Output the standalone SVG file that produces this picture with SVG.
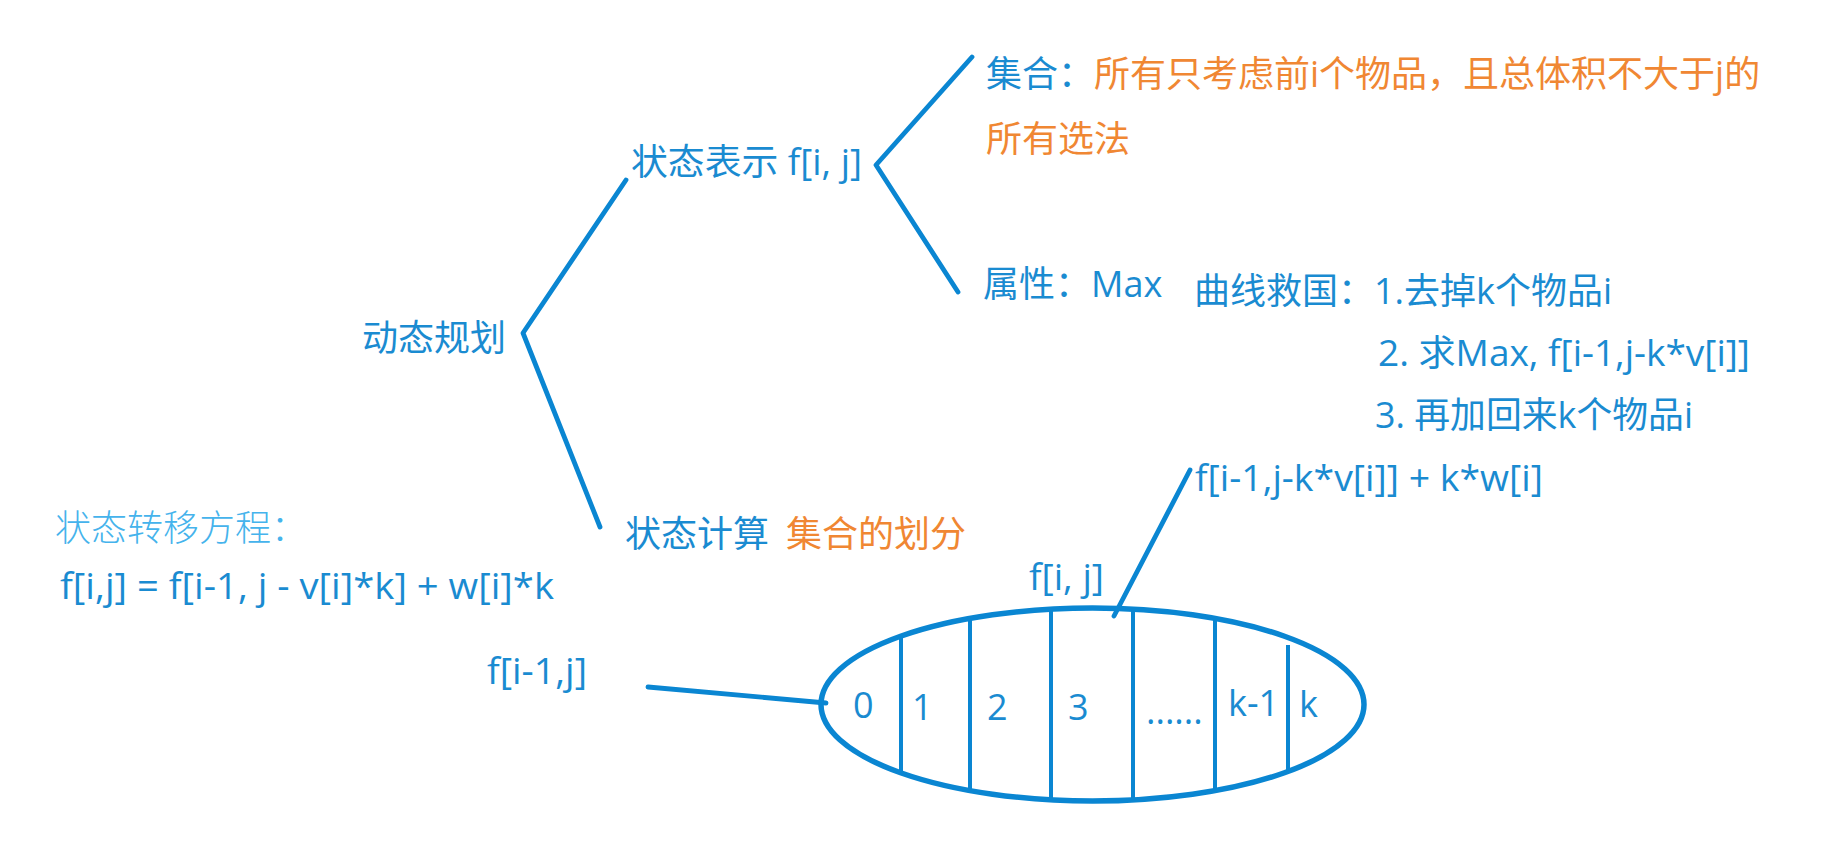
<svg xmlns="http://www.w3.org/2000/svg" width="1847" height="855" viewBox="0 0 1847 855">
<style>
text{font-family:"Open Sans","Noto Sans CJK SC",sans-serif;font-size:36px;fill:#1a8bd1}
.o{fill:#f08733}
.lb{fill:#45b3ec;font-family:"Noto Sans CJK SC",sans-serif;font-weight:300}
.ln{stroke:#0a86d2;stroke-width:4.8;fill:none;stroke-linecap:round;stroke-linejoin:round}
.dv{stroke:#0a86d2;stroke-width:4;fill:none}
</style>
<rect width="1847" height="855" fill="#ffffff"/>
<g id="connectors">
<polyline class="ln" points="626,180 523,333 600,527"/>
<polyline class="ln" points="972,57 876,165 958,292"/>
<line class="ln" x1="1190" y1="470" x2="1114" y2="616"/>
<line class="ln" x1="648" y1="687" x2="826" y2="703" stroke-width="5.5"/>
</g>
<g id="node-dp"><text x="362" y="351">动态规划</text></g>
<g id="node-state"><text x="631" y="175" textLength="231" lengthAdjust="spacingAndGlyphs">状态表示 f[i, j]</text></g>
<g id="node-set"><text x="986" y="87">集合：<tspan class="o">所有只考虑前i个物品，且总体积不大于j的</tspan></text>
<text class="o" x="986" y="152">所有选法</text></g>
<g id="node-attr"><text x="983" y="297">属性：Max</text></g>
<g id="node-trick"><text x="1194" y="304" textLength="418" lengthAdjust="spacingAndGlyphs">曲线救国：1.去掉k个物品i</text>
<text x="1378" y="366" font-size="37" textLength="372" lengthAdjust="spacingAndGlyphs">2. 求Max, f[i-1,j-k*v[i]]</text>
<text x="1375" y="428" textLength="318" lengthAdjust="spacingAndGlyphs">3. 再加回来k个物品i</text></g>
<g id="node-calc"><text x="625" y="547">状态计算</text><text class="o" x="786" y="547">集合的划分</text></g>
<g id="node-eq"><text class="lb" x="55" y="541" font-size="37.5">状态转移方程：</text>
<text x="60" y="599" font-size="38" textLength="494" lengthAdjust="spacingAndGlyphs">f[i,j] = f[i-1, j - v[i]*k] + w[i]*k</text></g>
<g id="node-term"><text x="1195" y="491" font-size="37" textLength="348" lengthAdjust="spacingAndGlyphs">f[i-1,j-k*v[i]] + k*w[i]</text></g>
<g id="node-fij"><text x="1029" y="590" font-size="37" textLength="75" lengthAdjust="spacingAndGlyphs">f[i, j]</text></g>
<g id="node-fi1j"><text x="487" y="684" font-size="37" textLength="100" lengthAdjust="spacingAndGlyphs">f[i-1,j]</text></g>
<g id="node-partition">
<ellipse cx="1092.5" cy="704.5" rx="271.5" ry="96.5" fill="none" stroke="#0a86d2" stroke-width="5.5"/>
<line class="dv" x1="901" y1="636" x2="901" y2="773"/>
<line class="dv" x1="970" y1="618" x2="970" y2="791"/>
<line class="dv" x1="1051" y1="609" x2="1051" y2="800"/>
<line class="dv" x1="1133" y1="609" x2="1133" y2="800"/>
<line class="dv" x1="1215" y1="618" x2="1215" y2="791"/>
<line class="dv" x1="1288" y1="645" x2="1288" y2="772"/>
<text x="853" y="718">0</text>
<text x="912" y="720">1</text>
<text x="987" y="720">2</text>
<text x="1068" y="720">3</text>
<text x="1146" y="724" font-size="30">......</text>
<text x="1228" y="716">k-1</text>
<text x="1299" y="717">k</text>
</g>
</svg>
